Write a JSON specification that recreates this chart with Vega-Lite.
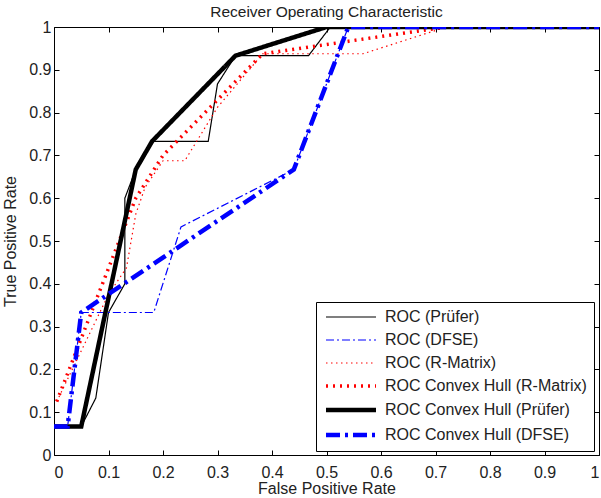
{
  "$schema": "https://vega.github.io/schema/vega-lite/v6.json",
  "width": 545,
  "height": 428,
  "autosize": {"type": "none"},
  "padding": {"left": 54, "top": 27, "right": 2, "bottom": 43},
  "title": {"text": "Receiver Operating Characteristic", "fontSize": 15.5, "fontWeight": "normal", "font": "Liberation Sans", "color": "#222", "offset": 2, "dy": 3},
  "config": {
    "view": {"stroke": "#000", "strokeWidth": 1},
    "font": "Liberation Sans",
    "axis": {"grid": false, "domain": false, "tickColor": "#000", "tickSize": -5, "labelFont": "Liberation Sans", "labelFontSize": 16, "labelColor": "#222", "titleFont": "Liberation Sans", "titleFontSize": 16, "titleFontWeight": "normal", "titleColor": "#222"}
  },
  "data": {"values": [
    {"s": "ROC (Prüfer)", "i": 0, "x": 0, "y": 0.0667},
    {"s": "ROC (Prüfer)", "i": 1, "x": 0.05, "y": 0.0667},
    {"s": "ROC (Prüfer)", "i": 2, "x": 0.0767, "y": 0.133},
    {"s": "ROC (Prüfer)", "i": 3, "x": 0.1, "y": 0.333},
    {"s": "ROC (Prüfer)", "i": 4, "x": 0.13, "y": 0.4},
    {"s": "ROC (Prüfer)", "i": 5, "x": 0.13, "y": 0.6},
    {"s": "ROC (Prüfer)", "i": 6, "x": 0.15, "y": 0.667},
    {"s": "ROC (Prüfer)", "i": 7, "x": 0.183, "y": 0.733},
    {"s": "ROC (Prüfer)", "i": 8, "x": 0.283, "y": 0.733},
    {"s": "ROC (Prüfer)", "i": 9, "x": 0.3, "y": 0.867},
    {"s": "ROC (Prüfer)", "i": 10, "x": 0.333, "y": 0.933},
    {"s": "ROC (Prüfer)", "i": 11, "x": 0.467, "y": 0.933},
    {"s": "ROC (Prüfer)", "i": 12, "x": 0.507, "y": 1},
    {"s": "ROC (Prüfer)", "i": 13, "x": 1, "y": 1},
    {"s": "ROC (DFSE)", "i": 0, "x": 0, "y": 0.0667},
    {"s": "ROC (DFSE)", "i": 1, "x": 0.025, "y": 0.0667},
    {"s": "ROC (DFSE)", "i": 2, "x": 0.05, "y": 0.333},
    {"s": "ROC (DFSE)", "i": 3, "x": 0.183, "y": 0.333},
    {"s": "ROC (DFSE)", "i": 4, "x": 0.233, "y": 0.533},
    {"s": "ROC (DFSE)", "i": 5, "x": 0.44, "y": 0.667},
    {"s": "ROC (DFSE)", "i": 6, "x": 0.54, "y": 1},
    {"s": "ROC (DFSE)", "i": 7, "x": 1, "y": 1},
    {"s": "ROC (R-Matrix)", "i": 0, "x": 0.005, "y": 0.125},
    {"s": "ROC (R-Matrix)", "i": 1, "x": 0.1, "y": 0.375},
    {"s": "ROC (R-Matrix)", "i": 2, "x": 0.133, "y": 0.4375},
    {"s": "ROC (R-Matrix)", "i": 3, "x": 0.15, "y": 0.5625},
    {"s": "ROC (R-Matrix)", "i": 4, "x": 0.167, "y": 0.625},
    {"s": "ROC (R-Matrix)", "i": 5, "x": 0.2, "y": 0.6875},
    {"s": "ROC (R-Matrix)", "i": 6, "x": 0.24, "y": 0.6875},
    {"s": "ROC (R-Matrix)", "i": 7, "x": 0.3, "y": 0.8125},
    {"s": "ROC (R-Matrix)", "i": 8, "x": 0.383, "y": 0.9375},
    {"s": "ROC (R-Matrix)", "i": 9, "x": 0.567, "y": 0.9375},
    {"s": "ROC (R-Matrix)", "i": 10, "x": 0.72, "y": 1},
    {"s": "ROC (R-Matrix)", "i": 11, "x": 1, "y": 1},
    {"s": "ROC Convex Hull (R-Matrix)", "i": 0, "x": 0.005, "y": 0.125},
    {"s": "ROC Convex Hull (R-Matrix)", "i": 1, "x": 0.15, "y": 0.6},
    {"s": "ROC Convex Hull (R-Matrix)", "i": 2, "x": 0.2, "y": 0.7},
    {"s": "ROC Convex Hull (R-Matrix)", "i": 3, "x": 0.383, "y": 0.9375},
    {"s": "ROC Convex Hull (R-Matrix)", "i": 4, "x": 0.72, "y": 1},
    {"s": "ROC Convex Hull (R-Matrix)", "i": 5, "x": 1, "y": 1},
    {"s": "ROC Convex Hull (Prüfer)", "i": 0, "x": 0, "y": 0.0667},
    {"s": "ROC Convex Hull (Prüfer)", "i": 1, "x": 0.05, "y": 0.0667},
    {"s": "ROC Convex Hull (Prüfer)", "i": 2, "x": 0.15, "y": 0.667},
    {"s": "ROC Convex Hull (Prüfer)", "i": 3, "x": 0.18, "y": 0.733},
    {"s": "ROC Convex Hull (Prüfer)", "i": 4, "x": 0.333, "y": 0.933},
    {"s": "ROC Convex Hull (Prüfer)", "i": 5, "x": 0.5, "y": 1},
    {"s": "ROC Convex Hull (Prüfer)", "i": 6, "x": 1, "y": 1},
    {"s": "ROC Convex Hull (DFSE)", "i": 0, "x": 0, "y": 0.0667},
    {"s": "ROC Convex Hull (DFSE)", "i": 1, "x": 0.025, "y": 0.0667},
    {"s": "ROC Convex Hull (DFSE)", "i": 2, "x": 0.05, "y": 0.333},
    {"s": "ROC Convex Hull (DFSE)", "i": 3, "x": 0.44, "y": 0.667},
    {"s": "ROC Convex Hull (DFSE)", "i": 4, "x": 0.54, "y": 1},
    {"s": "ROC Convex Hull (DFSE)", "i": 5, "x": 1, "y": 1}
  ]},
  "layer": [
    {
      "mark": {"type": "line", "clip": true},
      "encoding": {
        "x": {"field": "x", "type": "quantitative", "scale": {"domain": [0, 1], "nice": false}, "axis": {"values": [0, 0.1, 0.2, 0.3, 0.4, 0.5, 0.6, 0.7, 0.8, 0.9, 1], "format": "~g", "title": "False Positive Rate", "labelPadding": 14, "titlePadding": 0}},
        "y": {"field": "y", "type": "quantitative", "scale": {"domain": [0, 1], "nice": false}, "axis": {"values": [0, 0.1, 0.2, 0.3, 0.4, 0.5, 0.6, 0.7, 0.8, 0.9, 1], "format": "~g", "title": "True Positive Rate", "labelPadding": 8, "titlePadding": 10}},
        "order": {"field": "i", "type": "quantitative"},
        "color": {"field": "s", "type": "nominal",
          "scale": {"domain": ["ROC (Prüfer)", "ROC (DFSE)", "ROC (R-Matrix)", "ROC Convex Hull (R-Matrix)", "ROC Convex Hull (Prüfer)", "ROC Convex Hull (DFSE)"],
                    "range": ["#000000", "#0000ff", "#ff0000", "#ff0000", "#000000", "#0000ff"]},
          "legend": {"title": null, "orient": "none", "legendX": 262, "legendY": 275, "symbolType": "M-5,0H5", "symbolSize": 100, "symbolOffset": 20, "labelFontSize": 16, "labelFont": "Liberation Sans", "labelColor": "#222", "labelLimit": 400, "strokeColor": "#000", "fillColor": "#fff", "padding": 7, "rowPadding": 7, "labelOffset": 26,
            "encode": {"symbols": {"update": {"strokeWidth": {"signal": "datum.value === 'ROC Convex Hull (Prüfer)' || datum.value === 'ROC Convex Hull (DFSE)' ? 4.5 : datum.value === 'ROC Convex Hull (R-Matrix)' ? 3.5 : 1.2"}}}}}},
        "strokeDash": {"field": "s", "type": "nominal",
          "scale": {"domain": ["ROC (Prüfer)", "ROC (DFSE)", "ROC (R-Matrix)", "ROC Convex Hull (R-Matrix)", "ROC Convex Hull (Prüfer)", "ROC Convex Hull (DFSE)"],
                    "range": [[1, 0], [8, 3, 2, 3], [1.5, 3.5], [2, 5], [1, 0], [14, 5, 3, 5]]}},
        "strokeWidth": {"condition": [
          {"test": "datum.s === 'ROC Convex Hull (Prüfer)' || datum.s === 'ROC Convex Hull (DFSE)'", "value": 4.5},
          {"test": "datum.s === 'ROC Convex Hull (R-Matrix)'", "value": 3.5}], "value": 1.2}
      }
    },
    {
      "mark": {"type": "line", "opacity": 0},
      "encoding": {
        "x": {"field": "x", "type": "quantitative", "axis": {"orient": "top", "values": [0, 0.1, 0.2, 0.3, 0.4, 0.5, 0.6, 0.7, 0.8, 0.9, 1], "labels": false, "title": null}},
        "y": {"field": "y", "type": "quantitative", "axis": {"orient": "right", "values": [0, 0.1, 0.2, 0.3, 0.4, 0.5, 0.6, 0.7, 0.8, 0.9, 1], "labels": false, "title": null}},
        "detail": {"field": "s", "type": "nominal"}
      }
    }
  ],
  "resolve": {"axis": {"x": "independent", "y": "independent"}}
}
